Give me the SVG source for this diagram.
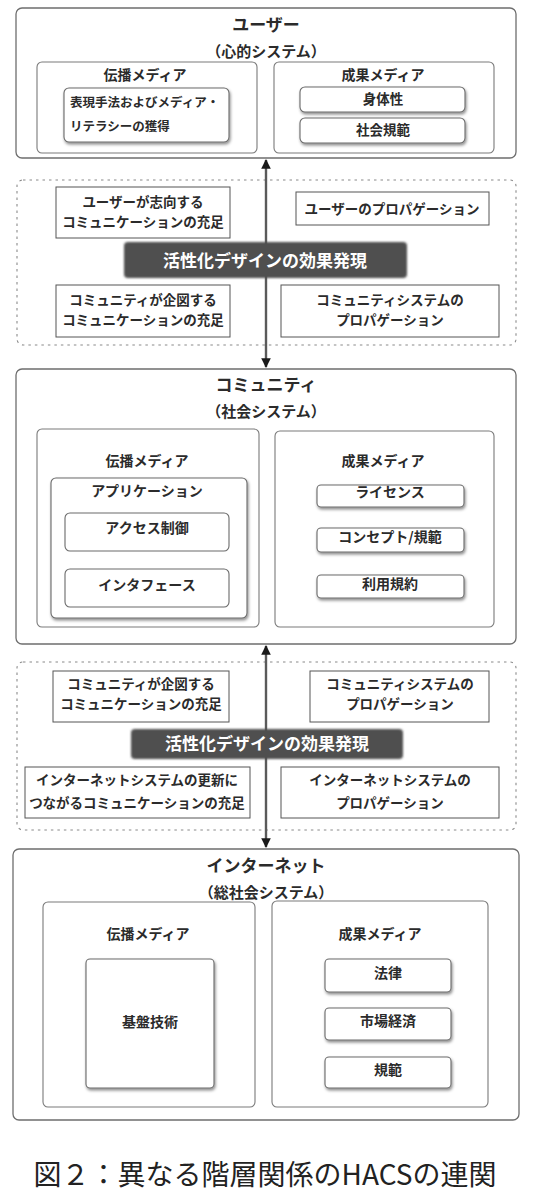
<svg xmlns="http://www.w3.org/2000/svg" width="541" height="1200" viewBox="0 0 541 1200">
<defs>
<style>
text{font-family:"Noto Sans CJK JP","Noto Sans",sans-serif;fill:#2b2b2b;font-weight:700;text-anchor:middle;dominant-baseline:central}
.outer{fill:#fff;stroke:#6e6e6e;stroke-width:1.3}
.inner{fill:#fff;stroke:#7a7a7a;stroke-width:1.1}
.item{fill:#fff;stroke:#6a6a6a;stroke-width:1.1}
.band{fill:none;stroke:#8a8a8a;stroke-width:1.1;stroke-dasharray:2.5 4}
.sq{fill:#fff;stroke:#555;stroke-width:1}
.bar{fill:#4f4f4f}
.title{font-size:17px}
.sub{font-size:15px}
.med{font-size:14px}
.t13{font-size:13.5px}
.t12{font-size:12.5px;text-anchor:start}
.bartxt{font-size:17px;fill:#fff}
.conn{stroke:#5a5a5a;stroke-width:2.4;fill:none}
.cap{font-size:28px;font-weight:400;fill:#222}
</style>
<filter id="sh" x="-10%" y="-20%" width="125%" height="150%">
<feDropShadow dx="1" dy="2" stdDeviation="1.4" flood-color="#000" flood-opacity="0.45"/>
</filter>
<filter id="barsh" x="-10%" y="-30%" width="120%" height="160%">
<feGaussianBlur in="SourceGraphic" stdDeviation="1.2"/>
</filter>
<marker id="ah" viewBox="0 0 10 10" refX="9" refY="5" markerWidth="4" markerHeight="4" orient="auto-start-reverse" markerUnits="strokeWidth">
<path d="M0,0 L10,5 L0,10 z" fill="#1a1a1a"/>
</marker>
</defs>
<rect width="541" height="1200" fill="#fff"/>

<g id="user">
<rect class="outer" x="16" y="8" width="500" height="150" rx="6"/>
<text class="title" x="266" y="23">ユーザー</text>
<text class="sub" x="266" y="50">（心的システム）</text>
<g id="user-denpa">
<rect class="inner" x="37" y="62" width="220" height="91" rx="5"/>
<text class="med" x="145" y="74">伝播メディア</text>
<rect class="item" x="64" y="88" width="165" height="54" rx="5" filter="url(#sh)"/>
<text class="t12" x="70" y="101">表現手法およびメディア・</text>
<text class="t12" x="70" y="125">リテラシーの獲得</text>
</g>
<g id="user-seika">
<rect class="inner" x="274" y="62" width="220" height="91" rx="5"/>
<text class="med" x="383" y="74">成果メディア</text>
<rect class="item" x="300" y="87" width="165" height="25" rx="5" filter="url(#sh)"/>
<text class="t13" x="383" y="98">身体性</text>
<rect class="item" x="300" y="118" width="165" height="25" rx="5" filter="url(#sh)"/>
<text class="t13" x="383" y="129">社会規範</text>
</g>
</g>

<g id="community">
<rect class="outer" x="16" y="369" width="500" height="275" rx="6"/>
<text class="title" x="266" y="383">コミュニティ</text>
<text class="sub" x="266" y="410">（社会システム）</text>
<g id="community-denpa">
<rect class="inner" x="37" y="429" width="222" height="198" rx="5"/>
<text class="med" x="147" y="460">伝播メディア</text>
<rect class="item" x="51" y="478" width="196" height="140" rx="5" filter="url(#sh)"/>
<text class="med" x="147" y="490">アプリケーション</text>
<rect class="item" x="65" y="513" width="164" height="38" rx="5"/>
<text class="med" x="147" y="527">アクセス制御</text>
<rect class="item" x="65" y="569" width="164" height="38" rx="5"/>
<text class="med" x="147" y="584">インタフェース</text>
</g>
<g id="community-seika">
<rect class="inner" x="275" y="431" width="219" height="196" rx="5"/>
<text class="med" x="383" y="460">成果メディア</text>
<rect class="item" x="317" y="485" width="147" height="22" rx="4" filter="url(#sh)"/>
<text class="med" x="390" y="491">ライセンス</text>
<rect class="item" x="317" y="528" width="147" height="24" rx="4" filter="url(#sh)"/>
<text class="med" x="390" y="536">コンセプト/規範</text>
<rect class="item" x="317" y="575" width="147" height="23" rx="4" filter="url(#sh)"/>
<text class="med" x="390" y="583">利用規約</text>
</g>
</g>

<g id="internet">
<rect class="outer" x="13" y="849" width="506" height="271" rx="6"/>
<text class="title" x="266" y="864">インターネット</text>
<text class="sub" x="266" y="891">（総社会システム）</text>
<g id="internet-denpa">
<rect class="inner" x="43" y="902" width="212" height="205" rx="5"/>
<text class="med" x="148" y="933">伝播メディア</text>
<rect class="item" x="86" y="959" width="128" height="129" rx="4" filter="url(#sh)"/>
<text class="med" x="150" y="1021">基盤技術</text>
</g>
<g id="internet-seika">
<rect class="inner" x="272" y="901" width="216" height="206" rx="5"/>
<text class="med" x="380" y="933">成果メディア</text>
<rect class="item" x="325" y="959" width="126" height="33" rx="4" filter="url(#sh)"/>
<text class="med" x="388" y="972">法律</text>
<rect class="item" x="325" y="1008" width="126" height="32" rx="4" filter="url(#sh)"/>
<text class="med" x="388" y="1020">市場経済</text>
<rect class="item" x="325" y="1057" width="126" height="31" rx="4" filter="url(#sh)"/>
<text class="med" x="388" y="1069">規範</text>
</g>
</g>

<g id="band1">
<rect class="band" x="17" y="180" width="499" height="165" rx="6"/>
<g id="band1-a">
<rect class="sq" x="56" y="187" width="174" height="51"/>
<text class="t13" x="143" y="201">ユーザーが志向する</text>
<text class="t13" x="143" y="221">コミュニケーションの充足</text>
</g>
<g id="band1-b">
<rect class="sq" x="296" y="192" width="193" height="33"/>
<text class="t13" x="392" y="208">ユーザーのプロパゲーション</text>
</g>
<g id="band1-c">
<rect class="sq" x="56" y="285" width="174" height="52"/>
<text class="t13" x="143" y="299">コミュニティが企図する</text>
<text class="t13" x="143" y="319">コミュニケーションの充足</text>
</g>
<g id="band1-d">
<rect class="sq" x="281" y="285" width="218" height="52"/>
<text class="t13" x="390" y="299">コミュニティシステムの</text>
<text class="t13" x="390" y="319">プロパゲーション</text>
</g>
</g>

<g id="band2">
<rect class="band" x="17" y="662" width="499" height="168" rx="6"/>
<g id="band2-e">
<rect class="sq" x="53" y="671" width="176" height="51"/>
<text class="t13" x="141" y="683">コミュニティが企図する</text>
<text class="t13" x="141" y="703">コミュニケーションの充足</text>
</g>
<g id="band2-f">
<rect class="sq" x="310" y="671" width="179" height="51"/>
<text class="t13" x="400" y="683">コミュニティシステムの</text>
<text class="t13" x="400" y="703">プロパゲーション</text>
</g>
<g id="band2-g">
<rect class="sq" x="25" y="767" width="225" height="51"/>
<text class="t13" x="137" y="779">インターネットシステムの更新に</text>
<text class="t13" x="137" y="802">つながるコミュニケーションの充足</text>
</g>
<g id="band2-h">
<rect class="sq" x="281" y="767" width="218" height="51"/>
<text class="t13" x="390" y="779">インターネットシステムの</text>
<text class="t13" x="390" y="802">プロパゲーション</text>
</g>
</g>

<g id="connectors">
<line class="conn" x1="266" y1="160" x2="266" y2="367" marker-start="url(#ah)" marker-end="url(#ah)"/>
<line class="conn" x1="266" y1="646" x2="266" y2="847" marker-start="url(#ah)" marker-end="url(#ah)"/>
</g>

<g id="effect1">
<rect class="bar" x="124" y="242" width="283" height="36" rx="4" filter="url(#barsh)"/>
<text class="bartxt" x="265" y="259">活性化デザインの効果発現</text>
</g>
<g id="effect2">
<rect class="bar" x="131" y="729" width="272" height="30" rx="4" filter="url(#barsh)"/>
<text class="bartxt" x="267" y="742">活性化デザインの効果発現</text>
</g>

<g id="caption">
<text class="cap" x="265" y="1173">図２：異なる階層関係のHACSの連関</text>
</g>
</svg>
